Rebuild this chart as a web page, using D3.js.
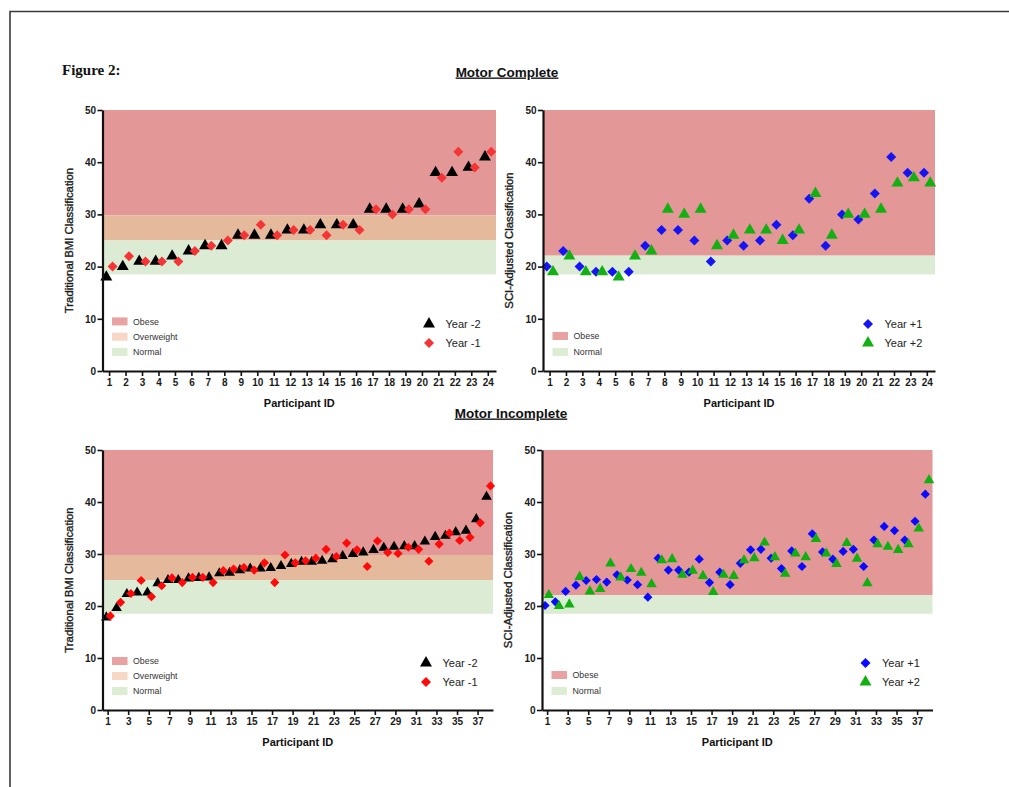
<!DOCTYPE html>
<html><head><meta charset="utf-8">
<script src="https://cdn.jsdelivr.net/npm/d3@7"></script>
<style>body{margin:0;background:#fff}svg{display:block}</style>
</head><body><svg id="c" width="1009" height="787"></svg>
<script>
// ---------- DATA ----------
const participantsComplete = [1,2,3,4,5,6,7,8,9,10,11,12,13,14,15,16,17,18,19,20,21,22,23,24];
const participantsIncomplete = [1,2,3,4,5,6,7,8,9,10,11,12,13,14,15,16,17,18,19,20,21,22,23,24,25,26,27,28,29,30,31,32,33,34,35,36,37,38];
const xTickLabelsComplete = [1,2,3,4,5,6,7,8,9,10,11,12,13,14,15,16,17,18,19,20,21,22,23,24];
const xTickLabelsIncomplete = [1,3,5,7,9,11,13,15,17,19,21,23,25,27,29,31,33,35,37];
const yTickLabels = [0,10,20,30,40,50];

// Motor Complete
const mcYearMinus2 = [18,20,21,21,22,23,24,24,26,26,26,27,27,28,28,28,31,31,31,32,38,38,39,41];
const mcYearMinus1 = [20,22,21,21,21,23,24,25,26,28,26,27,27,26,28,27,31,30,31,31,37,42,39,42];
const mcYearPlus1  = [20,23,20,19,19,19,24,27,27,25,21,25,24,25,28,26,33,24,30,29,34,41,38,38];
const mcYearPlus2  = [19,22,19,19,18,22,23,31,30,31,24,26,27,27,25,27,34,26,30,30,31,36,37,36];

// Motor Incomplete
const miYearMinus2 = [17.8,19.6,22.3,22.6,22.6,24.4,25.0,25.0,25.3,25.4,25.5,26.3,26.4,26.9,27.2,27.2,27.3,27.7,28.1,28.5,28.5,28.7,29.0,29.6,30.0,30.3,30.8,31.2,31.4,31.5,31.5,32.4,33.3,33.5,34.2,34.5,36.7,41.0];
const miYearMinus1 = [18.1,20.7,22.4,24.9,21.8,23.9,25.4,24.5,25.5,25.5,24.5,26.8,27.1,27.4,26.9,28.3,24.5,29.8,28.3,28.7,29.2,30.9,29.5,32.1,30.8,27.6,32.5,30.3,30.1,31.3,30.9,28.6,31.9,34.0,32.6,33.2,36.0,43.1];
const miYearPlus1  = [20.1,20.8,22.8,24.0,24.9,25.1,24.6,26.0,25.0,24.1,21.7,29.2,26.9,26.9,26.5,29.0,24.5,26.5,24.1,28.2,30.8,30.9,29.2,27.2,30.6,27.6,33.9,30.4,29.0,30.5,30.9,27.6,32.7,35.3,34.5,32.7,36.3,41.5];
const miYearPlus2  = [22.1,20.0,20.3,25.6,22.8,23.3,28.2,25.5,27.1,26.4,24.2,28.8,29.0,26.0,26.8,25.8,22.7,26.0,25.8,28.8,29.2,32.2,29.4,26.2,30.1,29.4,32.9,30.1,28.1,32.1,29.1,24.4,31.9,31.4,30.8,31.9,34.9,44.2];

// Classification bands
const bmiBandNames = ["Obese","Overweight","Normal"];
const bmiBandLow   = [29.8, 25, 18.5];
const bmiBandHigh  = [50, 29.8, 25];
const sciBandNames = ["Obese","Normal"];
const sciBandLow   = [22.1, 18.5];
const sciBandHigh  = [50, 22.1];

// ---------- STYLE ----------
const bandFill   = {Obese:"#e39797", Overweight:"#e5b99c", Normal:"#dcebd3"};
const swatchFill = {Obese:"#e8a2a2", Overweight:"#f6d8c5", Normal:"#dcedd4"};
const FONT = "'Liberation Sans', Arial, Helvetica, sans-serif";

const svg = d3.select("#c");

// frame
svg.append("path").attr("d","M10,787 L10,11.5 L1009,11.5")
  .attr("fill","none").attr("stroke","#3a3a3a").attr("stroke-width",1.6);

// titles
svg.append("text").attr("x",62).attr("y",75).text("Figure 2:")
  .attr("font-family","'Liberation Serif','Times New Roman',serif").attr("font-weight","bold")
  .attr("font-size",15).attr("fill","#111");
function heading(txt, cx, y){
  svg.append("text").attr("x",cx).attr("y",y).attr("text-anchor","middle")
    .attr("font-family",FONT).attr("font-weight","bold").attr("font-size",13.5)
    .attr("fill","#111").attr("text-decoration","underline").text(txt);
}
heading("Motor Complete", 507, 76.5);
heading("Motor Incomplete", 511, 417.5);

function symbolPath(shape, size){
  if(shape==="diamond"){
    return d3.symbol().type(d3.symbolSquare).size(size)();
  }
  return d3.symbol().type(d3.symbolTriangle).size(size)();
}

function drawPanel(p){
  const x = d3.scaleLinear().domain(p.xDomain).range([p.left, p.right]);
  const y = d3.scaleLinear().domain([0,50]).range([p.bottom, p.top]);
  const g = svg.append("g");

  // bands
  g.selectAll("rect.band").data(p.bandNames).join("rect")
    .attr("x", x(p.xDomain[0])).attr("width", x(p.xDomain[1]) - x(p.xDomain[0]))
    .attr("y", (d,i)=>y(p.bandHigh[i])).attr("height",(d,i)=>y(p.bandLow[i]) - y(p.bandHigh[i]))
    .attr("fill", d=>bandFill[d]);

  // series
  p.series.forEach(s=>{
    g.selectAll(null).data(s.values).join("path")
      .attr("d", symbolPath(s.shape, s.shape==="diamond"? p.diamondSize : p.triSize))
      .attr("transform",(v,i)=>`translate(${x(p.ids[i]+s.offset)},${y(v)})` + (s.shape==="diamond"?" rotate(45)":""))
      .attr("fill", s.color);
  });

  // axes
  const yAx = g.append("g").attr("transform",`translate(${p.left},0)`)
    .call(d3.axisLeft(y).tickValues(yTickLabels).tickSize(5).tickSizeOuter(0).tickPadding(1.5));
  const xAx = g.append("g").attr("transform",`translate(0,${p.bottom})`)
    .call(d3.axisBottom(x).tickValues(p.xTicks).tickSize(5).tickSizeOuter(0).tickPadding(3));
  [yAx,xAx].forEach(a=>{
    a.select(".domain").attr("stroke","#111").attr("stroke-width",2.2);
    a.selectAll(".tick line").attr("stroke","#111").attr("stroke-width",1.6);
    a.selectAll(".tick text").attr("font-family",FONT).attr("font-weight","bold")
      .attr("font-size",10).attr("fill","#1a1a1a");
  });

  // axis labels
  g.append("text").attr("transform",`translate(${p.left-30},${(p.top+p.bottom)/2}) rotate(-90)`)
    .attr("text-anchor","middle").attr("font-family",FONT)
    .attr("font-size",11.3).attr("fill","#1a1a1a").attr("stroke","#1a1a1a").attr("stroke-width",0.35)
    .text(p.yLabel);
  g.append("text").attr("x",(p.left+p.right)/2).attr("y",p.bottom+36)
    .attr("text-anchor","middle").attr("font-family",FONT).attr("font-weight","bold")
    .attr("font-size",11).attr("fill","#111").text("Participant ID");

  // band legend
  const n = p.bandNames.length;
  const bl = g.append("g");
  p.bandNames.forEach((nm,i)=>{
    const cy = p.bottom - 19 - (n-1-i)*p.bandLegendGap;
    bl.append("rect").attr("x",p.left+9.5).attr("y",cy-4).attr("width",15.5).attr("height",8)
      .attr("fill",swatchFill[nm]);
    bl.append("text").attr("x",p.left+30.5).attr("y",cy+3.2).attr("font-family",FONT)
      .attr("font-size",8.8).attr("fill","#333").text(nm);
  });

  // series legend
  p.series.forEach((s,i)=>{
    const cy = p.bottom - 47 + i*19;
    const mx = p.right - 67;
    g.append("path").attr("d", symbolPath(s.shape, s.shape==="diamond"? 50 : 62))
      .attr("transform",`translate(${mx},${cy})`+(s.shape==="diamond"?" rotate(45)":""))
      .attr("fill", s.color);
    g.append("text").attr("x",mx+16.5).attr("y",cy+4).attr("font-family",FONT)
      .attr("font-size",11).attr("fill","#222").text(s.name);
  });
}

const cBlack="#000000", cRed="#f53535", cBlue="#1414f5", cGreen="#12b012";

drawPanel({left:102.5,right:496,top:110,bottom:371,xDomain:[0.6,24.5],ids:participantsComplete,xTicks:xTickLabelsComplete,
  bandNames:bmiBandNames,bandLow:bmiBandLow,bandHigh:bmiBandHigh,bandLegendGap:15.3,triSize:62,diamondSize:50,
  yLabel:"Traditional BMI Classification",
  series:[{name:"Year -2",values:mcYearMinus2,shape:"triangle",color:cBlack,offset:-0.17},
          {name:"Year -1",values:mcYearMinus1,shape:"diamond",color:cRed,offset:0.21}]});

drawPanel({left:543,right:935,top:110,bottom:371,xDomain:[0.6,24.5],ids:participantsComplete,xTicks:xTickLabelsComplete,
  bandNames:sciBandNames,bandLow:sciBandLow,bandHigh:sciBandHigh,bandLegendGap:16,triSize:62,diamondSize:50,
  yLabel:"SCI-Adjusted Classification",
  series:[{name:"Year +1",values:mcYearPlus1,shape:"diamond",color:cBlue,offset:-0.17},
          {name:"Year +2",values:mcYearPlus2,shape:"triangle",color:cGreen,offset:0.21}]});

drawPanel({left:102.5,right:493,top:450,bottom:710,xDomain:[0.5,38.5],ids:participantsIncomplete,xTicks:xTickLabelsIncomplete,
  bandNames:bmiBandNames,bandLow:bmiBandLow,bandHigh:bmiBandHigh,bandLegendGap:15,triSize:48,diamondSize:42,
  yLabel:"Traditional BMI Classification",
  series:[{name:"Year -2",values:miYearMinus2,shape:"triangle",color:cBlack,offset:-0.13},
          {name:"Year -1",values:miYearMinus1,shape:"diamond",color:"#ff0a0a",offset:0.26}]});

drawPanel({left:542,right:932.5,top:450,bottom:710,xDomain:[0.5,38.5],ids:participantsIncomplete,xTicks:xTickLabelsIncomplete,
  bandNames:sciBandNames,bandLow:sciBandLow,bandHigh:sciBandHigh,bandLegendGap:16,triSize:48,diamondSize:42,
  yLabel:"SCI-Adjusted Classification",
  series:[{name:"Year +1",values:miYearPlus1,shape:"diamond",color:"#0a0aff",offset:-0.2},
          {name:"Year +2",values:miYearPlus2,shape:"triangle",color:"#10b010",offset:0.16}]});
</script>
</body></html>
